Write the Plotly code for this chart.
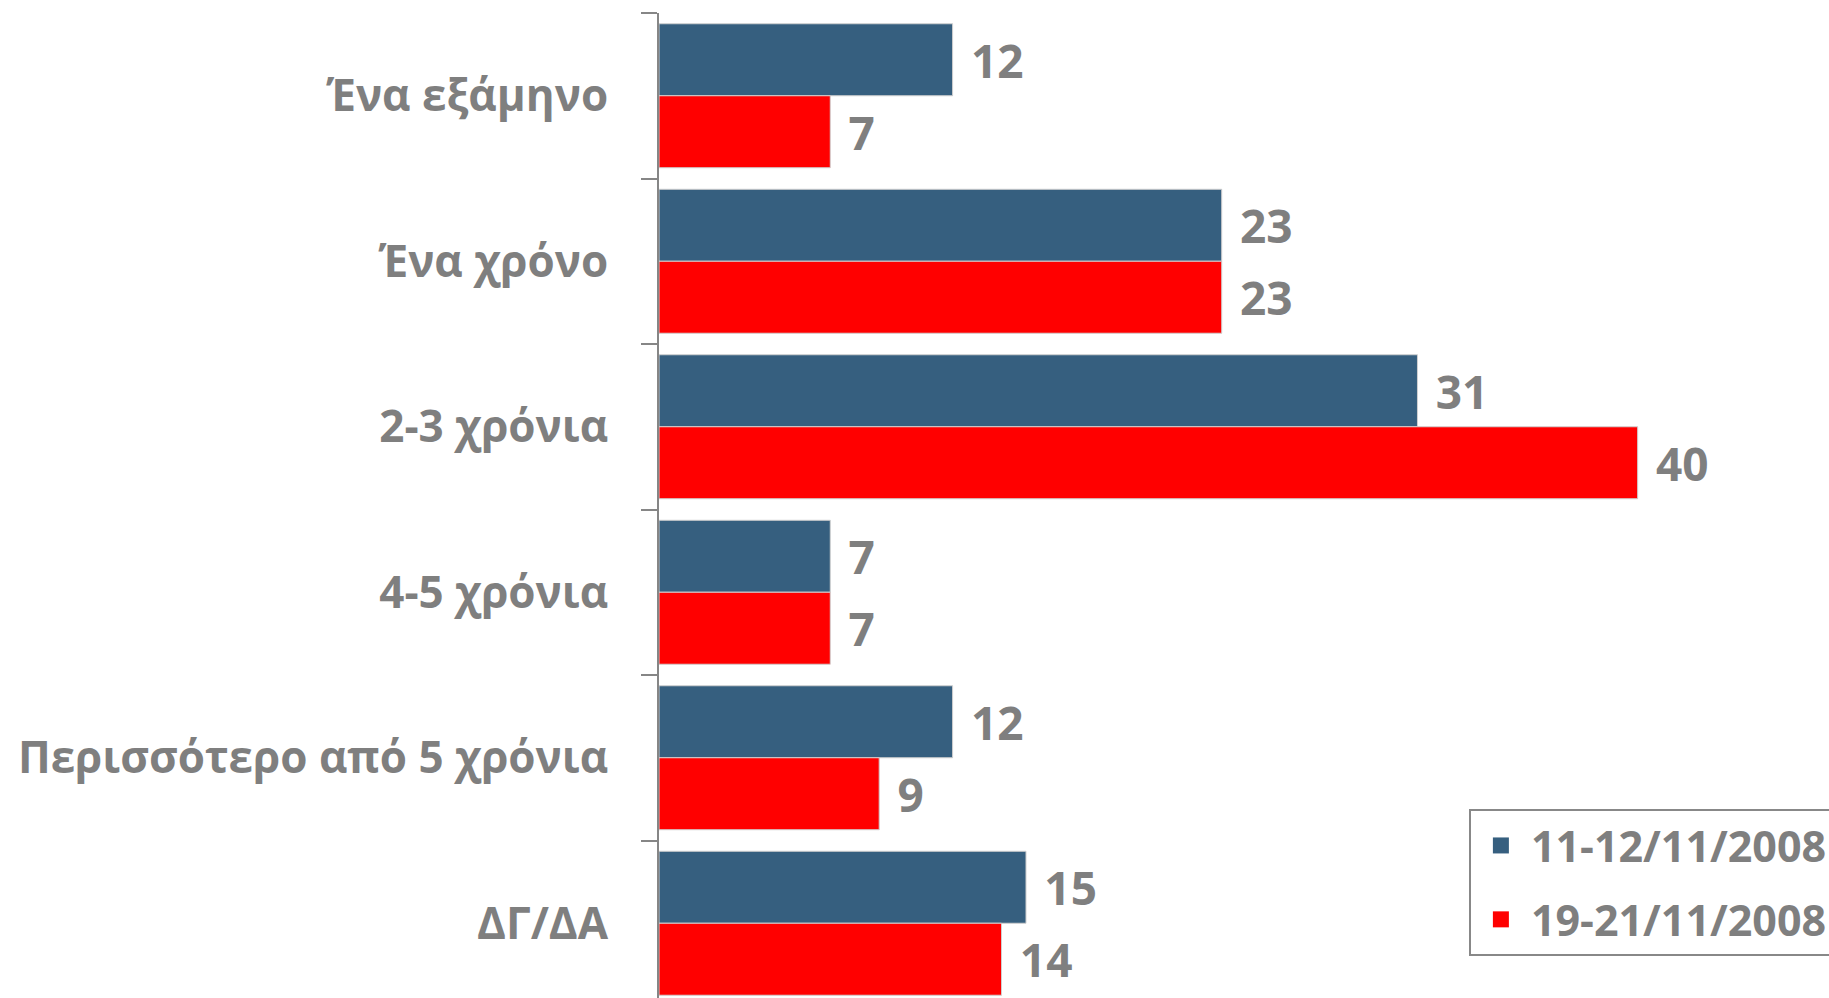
import plotly.graph_objects as go

categories = ["Ένα εξάμηνο", "Ένα χρόνο", "2-3 χρόνια", "4-5 χρόνια",
              "Περισσότερο από 5 χρόνια", "ΔΓ/ΔΑ"]
series_names = ["11-12/11/2008", "19-21/11/2008"]
values_nov11 = [12, 23, 31, 7, 12, 15]
values_nov19 = [7, 23, 40, 7, 9, 14]

BLUE = "#365F7F"
RED = "#FF0000"
GRAY = "#7F7F7F"
FONT = "Open Sans"

W, H = 1829, 998
left, top = 659, 13
px_per_unit = 24.47
xmax = 45
plot_w = xmax * px_per_unit
right = W - left - plot_w
plot_h = H - top
band = 165.5
ymax = -0.5 + plot_h / band

fig = go.Figure()
for name, vals, col in [(series_names[0], values_nov11, BLUE),
                        (series_names[1], values_nov19, RED)]:
    fig.add_trace(go.Bar(
        y=categories, x=vals, name=name, orientation="h",
        marker=dict(color=col, line=dict(color="#D0D0D0", width=1)),
        text=vals, texttemplate="\u2004%{text}", textposition="outside",
        textfont=dict(family=FONT, size=46, color=GRAY, weight="bold"),
        constraintext="none", cliponaxis=False, legendgroup=name,
        showlegend=False,
    ))
    # legend entry with a larger square swatch
    fig.add_trace(go.Scatter(
        x=[None], y=[None], mode="markers", name=name, legendgroup=name,
        marker=dict(symbol="square", size=16, color=col),
        showlegend=True, hoverinfo="skip",
    ))

fig.update_layout(
    width=W, height=H,
    margin=dict(l=left, r=right, t=top, b=0, autoexpand=False),
    paper_bgcolor="white", plot_bgcolor="white",
    barmode="group", bargap=0.13, bargroupgap=0,
    font=dict(family=FONT, color=GRAY),
    xaxis=dict(range=[0, xmax], visible=False, showgrid=False, zeroline=False),
    yaxis=dict(range=[ymax, -0.5], showgrid=False, zeroline=False,
               showline=True, linecolor="#868686", linewidth=2,
               ticks="outside", tickson="boundaries", ticklen=16,
               tickcolor="#868686", tickwidth=2,
               tickfont=dict(family=FONT, size=44, color=GRAY, weight="bold"),
               ticklabelstandoff=40),
    legend=dict(x=(1469 - left) / plot_w, xanchor="left",
                y=(H - 809) / plot_h, yanchor="top",
                bordercolor="#888888", borderwidth=2, bgcolor="white",
                font=dict(family=FONT, size=43, color=GRAY, weight="bold"),
                tracegroupgap=15, itemwidth=50, itemsizing="trace"),
    showlegend=True,
)

fig.write_html("out.html", config={"displayModeBar": False},
               post_script="document.body.style.margin='0';")
